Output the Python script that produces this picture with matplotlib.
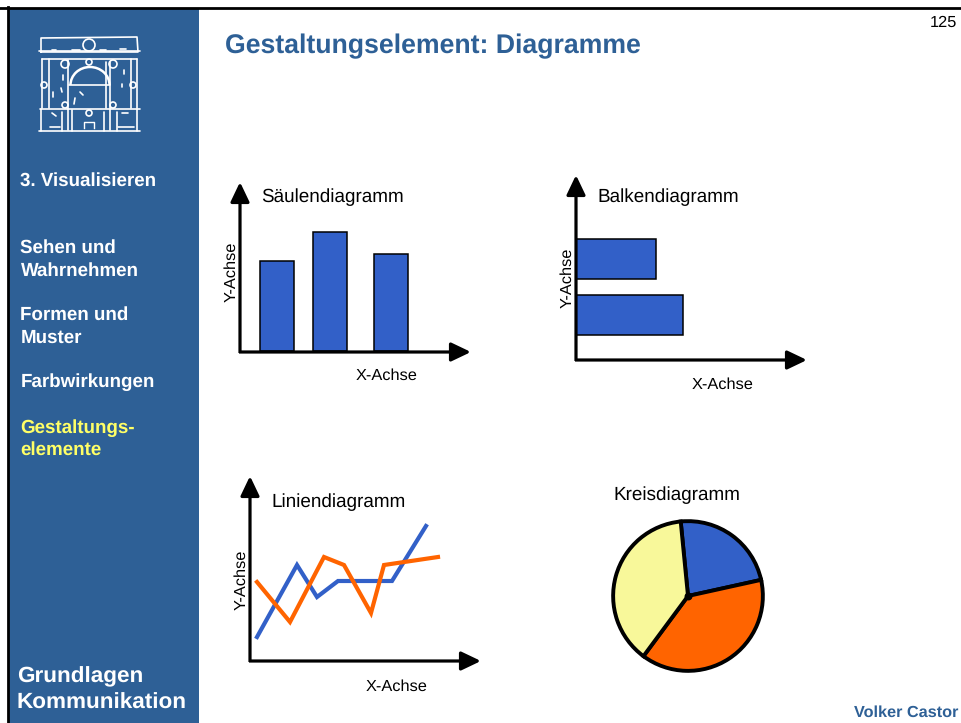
import matplotlib
matplotlib.use('Agg')
import matplotlib.pyplot as plt
from matplotlib.patches import Rectangle, Arc, Circle

plt.rcParams['font.family'] = ['Liberation Sans', 'DejaVu Sans']
plt.rcParams['text.hinting'] = 'no_hinting'

W, H = 961, 723

# data
saeulen_x = [277, 330, 391]
saeulen_h = [90, 119, 97]
balken_y = [259, 315]
balken_w = [80, 107]
blau_x = [257, 297, 317, 338, 392, 426]
blau_y = [637, 565, 597, 581, 581, 526]
orange_x = [257, 290, 324, 344, 371, 384, 438]
orange_y = [582, 622, 557, 565, 613, 565, 557]
kreis_werte = [23.1, 38.6, 38.3]

menu = [(181, '3. Visualisieren', 'white'),
        (248, 'Sehen und', 'white'), (271, 'Wahrnehmen', 'white'),
        (315, 'Formen und', 'white'), (338, 'Muster', 'white'),
        (382, 'Farbwirkungen', 'white'),
        (428, 'Gestaltungs-', '#FFFF66'), (450, 'elemente', '#FFFF66')]

BLUE = '#3260C8'
ORANGE = '#FF6400'
YELLOW = '#F8F89A'
SIDE = '#2E6096'

fig = plt.figure(figsize=(W / 100, H / 100), dpi=100)
ax = fig.add_axes([0, 0, 1, 1])
ax.set_xlim(0, W)
ax.set_ylim(H, 0)
ax.axis('off')

# slide frame and side bar
ax.add_patch(Rectangle((8, 8), 191, H, fc=SIDE, ec='none'))
ax.plot([0, W], [7.5, 7.5], color='black', lw=2)
ax.plot([8, 8], [7, H], color='black', lw=2)


def logo():
    c = 'white'
    lines = [([41, 41, 137, 138, 41], [52, 38, 37, 52, 52]),
             ([39, 140], [51, 51]), ([42, 137], [59, 59]),
             ([42, 42], [59, 108]), ([49, 49], [59, 108]),
             ([131, 131], [59, 108]), ([137, 137], [59, 108]),
             ([68, 68], [60, 130]), ([110, 110], [62, 130]),
             ([69, 110], [85, 85]), ([40, 140], [109, 109]),
             ([39, 140], [131, 131]), ([41, 41], [109, 131]),
             ([137, 137], [109, 131]), ([62, 62], [112, 131]),
             ([72, 72], [110, 131]), ([104, 104], [112, 131]),
             ([117, 117], [112, 131]), ([106, 106], [62, 108]),
             ([52, 56], [50, 50]), ([72, 80], [50, 50]), ([100, 106], [50, 50]),
             ([120, 126], [49, 49]), ([52, 56], [113, 116]),
             ([122, 128], [113, 113]), ([50, 60], [127, 127]),
             ([118, 134], [127, 127]), ([53, 53], [92, 97]),
             ([63, 63], [75, 80]), ([75, 74], [98, 104]), ([124, 124], [70, 74]),
             ([122, 122], [84, 87]), ([61, 62], [88, 92]), ([80, 83], [92, 95])]
    for xs, ys in lines:
        ax.plot(xs, ys, color=c, lw=1.2, solid_capstyle='round')
    ax.add_patch(Arc((90, 85), 39, 36, theta1=180, theta2=360, color=c, lw=1.8))
    for cx, cy, r in [(89, 45, 6), (65, 64, 4), (113, 64, 4), (89, 62, 3),
                      (65, 105, 3), (113, 105, 3), (89, 113, 3), (44, 85, 3),
                      (133, 85, 3)]:
        ax.add_patch(Circle((cx, cy), r, fc='none', ec=c, lw=1.2))
    ax.plot([84, 84, 94, 94], [128, 122, 122, 128], color=c, lw=1)


logo()

for y, s, col in menu:
    ax.text(20.5, y, s, color=col, fontsize=13.5, fontweight='bold', va='center', ha='left')
ax.text(17, 677, 'Grundlagen', color='white', fontsize=16.2, fontweight='bold', va='center')
ax.text(17, 703, 'Kommunikation', color='white', fontsize=16.2, fontweight='bold', va='center')

ax.text(225, 46.5, 'Gestaltungselement: Diagramme', color=SIDE, fontsize=19.15,
        fontweight='bold', va='center')
ax.text(957, 23, '125', color='black', fontsize=11.8, va='center', ha='right')
ax.text(958, 713, 'Volker Castor', color=SIDE, fontsize=11.7, fontweight='bold',
        va='center', ha='right')


def pfeil(x0, y0, x1, y1):
    ax.annotate('', xy=(x1, y1), xytext=(x0, y0),
                arrowprops=dict(arrowstyle='-|>,head_length=1.05,head_width=0.5',
                                color='black', lw=2.3, shrinkA=0, shrinkB=0,
                                mutation_scale=11.5, capstyle='butt'))


def achsen(x0, y0, top, right):
    pfeil(x0, y0 + 1, x0, top - 2)
    pfeil(x0 - 1, y0, right + 2, y0)


def label(x, y, s, size=11.8, rot=0):
    ax.text(x, y, s, fontsize=size, color='black', rotation=rot, ha='center', va='center')


# Saeulendiagramm
ax.bar(saeulen_x, [-h for h in saeulen_h], width=34, bottom=351, color=BLUE,
       edgecolor='black', linewidth=1.1, zorder=2)
achsen(240, 352, 184, 469)
label(332, 197, 'Säulendiagramm', 13.6)
label(387, 376, 'X-Achse')
label(231, 272, 'Y-Achse', rot=90)

# Balkendiagramm
ax.barh(balken_y, balken_w, height=40, left=576, color=BLUE, edgecolor='black',
        linewidth=1.1, zorder=2)
achsen(576, 360, 177, 805)
label(668, 197, 'Balkendiagramm', 13.6)
label(723, 385, 'X-Achse')
label(567, 278, 'Y-Achse', rot=90)

# Liniendiagramm
ax.plot(blau_x, blau_y, color=BLUE, lw=3, solid_joinstyle='miter', zorder=3)
ax.plot(orange_x, orange_y, color=ORANGE, lw=3, solid_joinstyle='miter', zorder=3)
achsen(250, 661, 478, 479)
label(339, 502, 'Liniendiagramm', 13.6)
label(397, 687, 'X-Achse')
label(241, 580, 'Y-Achse', rot=90)

# Kreisdiagramm
pie_ax = fig.add_axes([(688 - 76) / W, 1 - (596 + 76) / H, 152 / W, 152 / H])
pie_ax.pie(kreis_werte, colors=[BLUE, ORANGE, YELLOW], startangle=95.6, counterclock=False,
           radius=0.985, wedgeprops=dict(edgecolor='black', linewidth=2.8))
pie_ax.set_xlim(-1, 1)
pie_ax.set_ylim(-1, 1)
pie_ax.scatter([0], [0], s=22, color='black', zorder=5)
label(677, 495, 'Kreisdiagramm', 13.6)

fig.savefig('out.png', dpi=100)
plt.close()
